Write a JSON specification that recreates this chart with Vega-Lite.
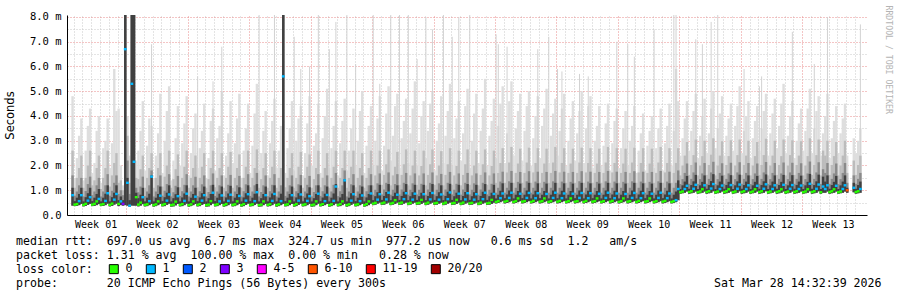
{
"$schema": "https://vega.github.io/schema/vega-lite/v6.json",
"width": 800, "height": 200,
"autosize": "none",
"padding": {"left": 67, "top": 15, "right": 30, "bottom": 82},
"background": "white",
"config": {"view": {"stroke": null}, "axis": {"zindex": 1}},
"title": {
  "text": [
    "median rtt:\u00a0\u00a0697.0 us avg\u00a0\u00a06.7 ms max\u00a0\u00a0324.7 us min\u00a0\u00a0977.2 us now\u00a0\u00a0\u00a00.6 ms sd\u00a0\u00a01.2\u00a0\u00a0\u00a0am/s",
    "packet loss: 1.31 % avg\u00a0\u00a0100.00 % max\u00a0\u00a00.00 % min\u00a0\u00a0\u00a00.28 % now",
    "loss color:",
    "probe:\u00a0\u00a0\u00a0\u00a0\u00a0\u00a0\u00a020 ICMP Echo Pings (56 Bytes) every 300s\u00a0\u00a0\u00a0\u00a0\u00a0\u00a0\u00a0\u00a0\u00a0\u00a0\u00a0\u00a0\u00a0\u00a0\u00a0\u00a0\u00a0\u00a0\u00a0\u00a0\u00a0\u00a0\u00a0\u00a0\u00a0\u00a0\u00a0\u00a0\u00a0\u00a0\u00a0\u00a0\u00a0\u00a0\u00a0\u00a0\u00a0\u00a0\u00a0\u00a0\u00a0\u00a0\u00a0\u00a0\u00a0\u00a0\u00a0Sat Mar 28 14:32:39 2026"
  ],
  "orient": "bottom", "anchor": "start", "frame": "group", "align": "left",
  "dx": -51, "offset": -40,
  "font": "DejaVu Sans Mono", "fontSize": 11.6, "fontWeight": "normal", "color": "black", "lineHeight": 14
},
"data": {"values": [
{"t":0.875,"m":0.8,"l":"1","lo":0.38,"a":1.1,"b":1.6,"c":2.6,"d":4.8},
{"t":1.125,"m":0.42,"l":"0","lo":0.36,"a":0.56,"b":0.78,"c":1.1,"d":1.5},
{"t":1.375,"m":0.44,"l":"0","lo":0.37,"a":0.7,"b":0.95,"c":1.5,"d":2.3},
{"t":1.625,"m":0.56,"l":"1","lo":0.4,"a":0.85,"b":1.2,"c":1.9,"d":3.2},
{"t":1.875,"m":0.8,"l":"1","lo":0.45,"a":1.1,"b":1.5,"c":2.4,"d":3.9},
{"t":2.125,"m":0.41,"l":"0","lo":0.35,"a":0.55,"b":0.75,"c":1.1,"d":1.4},
{"t":2.375,"m":0.45,"l":"0","lo":0.37,"a":0.72,"b":0.97,"c":1.5,"d":2.6},
{"t":2.625,"m":0.58,"l":"1","lo":0.41,"a":0.88,"b":1.25,"c":2.0,"d":3.6},
{"t":2.875,"m":0.72,"l":"1","lo":0.45,"a":1.1,"b":1.55,"c":2.6,"d":4.3},
{"t":3.125,"m":0.42,"l":"0","lo":0.36,"a":0.56,"b":0.8,"c":1.2,"d":1.7},
{"t":3.375,"m":0.45,"l":"0","lo":0.37,"a":0.7,"b":0.95,"c":1.4,"d":2.1},
{"t":3.625,"m":0.55,"l":"0","lo":0.4,"a":0.85,"b":1.2,"c":1.9,"d":3.4},
{"t":3.875,"m":0.65,"l":"1","lo":0.44,"a":1.05,"b":1.5,"c":2.4,"d":4.0},
{"t":4.125,"m":0.42,"l":"0","lo":0.36,"a":0.55,"b":0.75,"c":1.05,"d":1.3},
{"t":4.375,"m":0.44,"l":"0","lo":0.37,"a":0.7,"b":0.95,"c":1.5,"d":2.7},
{"t":4.625,"m":0.57,"l":"1","lo":0.4,"a":0.86,"b":1.2,"c":1.9,"d":3.0},
{"t":4.875,"m":0.88,"l":"1","lo":0.46,"a":1.2,"b":1.65,"c":2.6,"d":3.9},
{"t":5.125,"m":0.41,"l":"0","lo":0.35,"a":0.55,"b":0.78,"c":1.15,"d":1.9},
{"t":5.375,"m":0.46,"l":"0","lo":0.37,"a":0.72,"b":0.98,"c":1.6,"d":2.9},
{"t":5.625,"m":0.62,"l":"1","lo":0.42,"a":0.9,"b":1.3,"c":2.1,"d":5.9},
{"t":5.875,"m":0.85,"l":"1","lo":0.46,"a":1.2,"b":1.6,"c":2.5,"d":4.2},
{"t":6.125,"m":0.45,"l":"0","lo":0.36,"a":0.6,"b":0.85,"c":1.3,"d":4.3},
{"t":6.375,"m":0.55,"l":"1","lo":0.4,"a":0.75,"b":1.0,"c":1.4,"d":2.0},
{"t":6.625,"m":0.45,"l":"3","lo":0.38,"a":0.6,"b":0.8,"c":1.0,"d":1.2},
{"t":6.875,"m":6.7,"l":"1","lo":0.4,"a":8.1,"b":8.1,"c":8.1,"d":8.1},
{"t":7.125,"m":1.3,"l":"1","lo":0.38,"a":1.5,"b":2.2,"c":3.2,"d":4.0},
{"t":7.375,"m":0.38,"l":"1","lo":0.34,"a":0.6,"b":0.85,"c":1.3,"d":2.4},
{"t":7.625,"m":5.3,"l":"1","lo":0.38,"a":8.1,"b":8.1,"c":8.1,"d":8.1},
{"t":7.875,"m":2.15,"l":"1","lo":0.38,"a":8.1,"b":8.1,"c":8.1,"d":8.1},
{"t":8.125,"m":0.72,"l":"0","lo":0.38,"a":0.9,"b":1.1,"c":1.5,"d":2.2},
{"t":8.375,"m":0.42,"l":"0","lo":0.35,"a":0.68,"b":0.92,"c":1.45,"d":2.6},
{"t":8.625,"m":0.5,"l":"0","lo":0.38,"a":0.82,"b":1.15,"c":1.85,"d":3.4},
{"t":8.875,"m":0.72,"l":"1","lo":0.44,"a":1.1,"b":1.55,"c":2.4,"d":4.6},
{"t":9.125,"m":0.41,"l":"0","lo":0.35,"a":0.55,"b":0.76,"c":1.1,"d":1.8},
{"t":9.375,"m":0.43,"l":"0","lo":0.36,"a":0.7,"b":0.95,"c":1.5,"d":2.8},
{"t":9.625,"m":0.56,"l":"1","lo":0.4,"a":0.86,"b":1.2,"c":1.9,"d":3.9},
{"t":9.875,"m":1.55,"l":"1","lo":0.45,"a":1.6,"b":1.8,"c":2.5,"d":3.6,"p":6.9},
{"t":10.125,"m":0.4,"l":"0","lo":0.34,"a":0.55,"b":0.75,"c":1.1,"d":1.5},
{"t":10.375,"m":0.43,"l":"0","lo":0.36,"a":0.7,"b":0.95,"c":1.5,"d":2.4},
{"t":10.625,"m":0.55,"l":"0","lo":0.4,"a":0.85,"b":1.2,"c":1.9,"d":3.3},
{"t":10.875,"m":0.78,"l":"1","lo":0.45,"a":1.15,"b":1.6,"c":2.5,"d":4.9},
{"t":11.125,"m":0.41,"l":"0","lo":0.35,"a":0.56,"b":0.78,"c":1.15,"d":1.7},
{"t":11.375,"m":0.44,"l":"0","lo":0.36,"a":0.72,"b":0.98,"c":1.55,"d":3.0},
{"t":11.625,"m":0.58,"l":"1","lo":0.41,"a":0.9,"b":1.25,"c":2.0,"d":4.2},
{"t":11.875,"m":0.83,"l":"1","lo":0.46,"a":1.2,"b":1.65,"c":2.6,"d":5.2},
{"t":12.125,"m":0.4,"l":"0","lo":0.34,"a":0.55,"b":0.75,"c":1.1,"d":1.4},
{"t":12.375,"m":0.42,"l":"0","lo":0.35,"a":0.68,"b":0.92,"c":1.45,"d":2.2},
{"t":12.625,"m":0.54,"l":"0","lo":0.39,"a":0.84,"b":1.18,"c":1.85,"d":3.1},
{"t":12.875,"m":0.76,"l":"1","lo":0.45,"a":1.12,"b":1.58,"c":2.45,"d":4.4},
{"t":13.125,"m":0.41,"l":"0","lo":0.35,"a":0.55,"b":0.77,"c":1.12,"d":2.0},
{"t":13.375,"m":0.44,"l":"0","lo":0.36,"a":0.71,"b":0.96,"c":1.5,"d":2.9},
{"t":13.625,"m":0.57,"l":"1","lo":0.4,"a":0.87,"b":1.22,"c":1.95,"d":3.7},
{"t":13.875,"m":0.86,"l":"1","lo":0.46,"a":1.2,"b":1.65,"c":2.6,"d":4.8},
{"t":14.125,"m":0.4,"l":"0","lo":0.34,"a":0.55,"b":0.75,"c":1.1,"d":1.6},
{"t":14.375,"m":0.43,"l":"0","lo":0.36,"a":0.7,"b":0.95,"c":1.5,"d":2.5},
{"t":14.625,"m":0.55,"l":"0","lo":0.4,"a":0.85,"b":1.2,"c":1.9,"d":3.5},
{"t":14.875,"m":0.74,"l":"1","lo":0.44,"a":1.1,"b":1.55,"c":2.4,"d":4.1},
{"t":15.125,"m":0.41,"l":"0","lo":0.35,"a":0.56,"b":0.77,"c":1.12,"d":1.9,"p":5.6},
{"t":15.375,"m":0.44,"l":"0","lo":0.36,"a":0.71,"b":0.96,"c":1.5,"d":2.7},
{"t":15.625,"m":0.58,"l":"1","lo":0.41,"a":0.88,"b":1.24,"c":1.95,"d":3.4},
{"t":15.875,"m":0.8,"l":"1","lo":0.45,"a":1.15,"b":1.6,"c":2.5,"d":4.5},
{"t":16.125,"m":0.4,"l":"0","lo":0.34,"a":0.55,"b":0.75,"c":1.1,"d":1.5},
{"t":16.375,"m":0.42,"l":"0","lo":0.35,"a":0.68,"b":0.93,"c":1.45,"d":2.3},
{"t":16.625,"m":0.56,"l":"0","lo":0.4,"a":0.85,"b":1.2,"c":1.9,"d":3.8},
{"t":16.875,"m":0.9,"l":"1","lo":0.46,"a":1.22,"b":1.68,"c":2.6,"d":4.3,"p":5.4},
{"t":17.125,"m":0.41,"l":"0","lo":0.35,"a":0.56,"b":0.77,"c":1.12,"d":1.8},
{"t":17.375,"m":0.43,"l":"0","lo":0.36,"a":0.7,"b":0.95,"c":1.5,"d":3.1},
{"t":17.625,"m":0.55,"l":"1","lo":0.4,"a":0.86,"b":1.2,"c":1.9,"d":3.6},
{"t":17.875,"m":0.79,"l":"1","lo":0.45,"a":1.15,"b":1.6,"c":2.5,"d":5.0,"p":6.8},
{"t":18.125,"m":0.4,"l":"0","lo":0.34,"a":0.55,"b":0.75,"c":1.1,"d":1.6},
{"t":18.375,"m":0.44,"l":"0","lo":0.36,"a":0.71,"b":0.96,"c":1.5,"d":2.4},
{"t":18.625,"m":0.57,"l":"1","lo":0.4,"a":0.87,"b":1.22,"c":1.95,"d":3.3},
{"t":18.875,"m":0.82,"l":"1","lo":0.46,"a":1.18,"b":1.62,"c":2.55,"d":4.6},
{"t":19.125,"m":0.41,"l":"0","lo":0.35,"a":0.55,"b":0.76,"c":1.1,"d":2.1},
{"t":19.375,"m":0.43,"l":"0","lo":0.36,"a":0.7,"b":0.95,"c":1.5,"d":2.9},
{"t":19.625,"m":0.55,"l":"0","lo":0.4,"a":0.85,"b":1.2,"c":1.9,"d":3.9},
{"t":19.875,"m":0.77,"l":"1","lo":0.45,"a":1.12,"b":1.58,"c":2.45,"d":4.9},
{"t":20.125,"m":0.4,"l":"0","lo":0.34,"a":0.55,"b":0.75,"c":1.1,"d":1.5},
{"t":20.375,"m":0.44,"l":"0","lo":0.36,"a":0.71,"b":0.96,"c":1.5,"d":2.6},
{"t":20.625,"m":0.58,"l":"1","lo":0.41,"a":0.88,"b":1.24,"c":1.95,"d":3.5},
{"t":20.875,"m":0.84,"l":"1","lo":0.46,"a":1.2,"b":1.65,"c":2.6,"d":4.5},
{"t":21.125,"m":0.41,"l":"0","lo":0.35,"a":0.56,"b":0.77,"c":1.12,"d":1.7},
{"t":21.375,"m":0.43,"l":"0","lo":0.36,"a":0.7,"b":0.95,"c":1.5,"d":2.8},
{"t":21.625,"m":0.56,"l":"1","lo":0.4,"a":0.86,"b":1.2,"c":1.9,"d":4.1},
{"t":21.875,"m":0.92,"l":"1","lo":0.46,"a":1.25,"b":1.7,"c":2.65,"d":5.3},
{"t":22.125,"m":0.4,"l":"0","lo":0.34,"a":0.55,"b":0.75,"c":1.1,"d":1.8,"p":8.1},
{"t":22.375,"m":0.42,"l":"0","lo":0.35,"a":0.68,"b":0.93,"c":1.45,"d":2.5},
{"t":22.625,"m":0.55,"l":"0","lo":0.4,"a":0.85,"b":1.2,"c":1.9,"d":3.4},
{"t":22.875,"m":0.8,"l":"1","lo":0.45,"a":1.15,"b":1.6,"c":2.5,"d":4.2},
{"t":23.125,"m":0.41,"l":"0","lo":0.35,"a":0.55,"b":0.76,"c":1.1,"d":1.6},
{"t":23.375,"m":0.44,"l":"0","lo":0.36,"a":0.71,"b":0.96,"c":1.5,"d":2.9},
{"t":23.625,"m":0.57,"l":"1","lo":0.4,"a":0.87,"b":1.22,"c":1.95,"d":3.8},
{"t":23.875,"m":0.85,"l":"1","lo":0.46,"a":1.2,"b":1.65,"c":2.6,"d":4.7,"p":8.1},
{"t":24.125,"m":0.4,"l":"0","lo":0.34,"a":0.55,"b":0.75,"c":1.1,"d":1.9},
{"t":24.375,"m":0.43,"l":"0","lo":0.36,"a":0.7,"b":0.95,"c":1.5,"d":2.6},
{"t":24.625,"m":0.56,"l":"1","lo":0.4,"a":0.86,"b":1.2,"c":1.9,"d":3.6},
{"t":24.875,"m":5.6,"l":"1","lo":0.45,"a":8.1,"b":8.1,"c":8.1,"d":8.1},
{"t":25.125,"m":0.41,"l":"0","lo":0.35,"a":0.56,"b":0.77,"c":1.12,"d":1.7},
{"t":25.375,"m":0.43,"l":"0","lo":0.36,"a":0.7,"b":0.95,"c":1.5,"d":2.7},
{"t":25.625,"m":0.55,"l":"0","lo":0.4,"a":0.85,"b":1.2,"c":1.9,"d":3.5},
{"t":25.875,"m":0.8,"l":"1","lo":0.45,"a":1.15,"b":1.6,"c":2.5,"d":4.6},
{"t":26.125,"m":0.4,"l":"0","lo":0.34,"a":0.55,"b":0.75,"c":1.1,"d":1.8,"p":7.2},
{"t":26.375,"m":0.44,"l":"0","lo":0.36,"a":0.71,"b":0.96,"c":1.5,"d":3.0},
{"t":26.625,"m":0.58,"l":"1","lo":0.41,"a":0.88,"b":1.24,"c":1.95,"d":3.9},
{"t":26.875,"m":0.83,"l":"1","lo":0.46,"a":1.2,"b":1.62,"c":2.55,"d":4.4,"p":5.9},
{"t":27.125,"m":0.41,"l":"0","lo":0.35,"a":0.55,"b":0.76,"c":1.1,"d":1.6},
{"t":27.375,"m":0.43,"l":"0","lo":0.36,"a":0.7,"b":0.95,"c":1.5,"d":2.5},
{"t":27.625,"m":0.57,"l":"1","lo":0.4,"a":0.87,"b":1.22,"c":1.95,"d":3.7},
{"t":27.875,"m":0.76,"l":"1","lo":0.45,"a":1.12,"b":1.58,"c":2.45,"d":4.8,"p":6.0},
{"t":28.125,"m":0.4,"l":"0","lo":0.34,"a":0.55,"b":0.75,"c":1.1,"d":2.0},
{"t":28.375,"m":0.42,"l":"0","lo":0.35,"a":0.68,"b":0.93,"c":1.45,"d":2.8},
{"t":28.625,"m":0.55,"l":"0","lo":0.4,"a":0.85,"b":1.2,"c":1.9,"d":3.3},
{"t":28.875,"m":0.86,"l":"1","lo":0.46,"a":1.2,"b":1.65,"c":2.6,"d":4.5,"p":8.1},
{"t":29.125,"m":0.41,"l":"0","lo":0.35,"a":0.56,"b":0.77,"c":1.12,"d":1.7},
{"t":29.375,"m":0.44,"l":"0","lo":0.36,"a":0.71,"b":0.96,"c":1.5,"d":3.1},
{"t":29.625,"m":0.56,"l":"1","lo":0.4,"a":0.86,"b":1.2,"c":1.9,"d":4.0},
{"t":29.875,"m":0.81,"l":"1","lo":0.45,"a":1.15,"b":1.6,"c":2.5,"d":5.1},
{"t":30.125,"m":0.4,"l":"0","lo":0.34,"a":0.55,"b":0.75,"c":1.1,"d":1.9,"p":6.7},
{"t":30.375,"m":0.43,"l":"0","lo":0.36,"a":0.7,"b":0.95,"c":1.5,"d":2.7},
{"t":30.625,"m":0.57,"l":"1","lo":0.4,"a":0.87,"b":1.22,"c":1.95,"d":3.6},
{"t":30.875,"m":1.15,"l":"1","lo":0.46,"a":1.25,"b":1.7,"c":2.6,"d":4.6,"p":7.8},
{"t":31.125,"m":0.41,"l":"0","lo":0.35,"a":0.55,"b":0.76,"c":1.1,"d":1.6},
{"t":31.375,"m":0.44,"l":"0","lo":0.36,"a":0.71,"b":0.96,"c":1.5,"d":2.9},
{"t":31.625,"m":0.55,"l":"0","lo":0.4,"a":0.85,"b":1.2,"c":1.9,"d":3.8},
{"t":31.875,"m":1.4,"l":"1","lo":0.45,"a":1.45,"b":1.8,"c":2.6,"d":4.7},
{"t":32.125,"m":0.4,"l":"0","lo":0.34,"a":0.55,"b":0.75,"c":1.1,"d":1.8,"p":8.1},
{"t":32.375,"m":0.43,"l":"0","lo":0.36,"a":0.7,"b":0.95,"c":1.5,"d":2.6},
{"t":32.625,"m":0.58,"l":"1","lo":0.41,"a":0.88,"b":1.24,"c":1.95,"d":3.5},
{"t":32.875,"m":0.84,"l":"1","lo":0.46,"a":1.2,"b":1.65,"c":2.6,"d":4.3},
{"t":33.125,"m":0.41,"l":"0","lo":0.35,"a":0.56,"b":0.77,"c":1.12,"d":2.0,"p":6.1},
{"t":33.375,"m":0.43,"l":"0","lo":0.36,"a":0.7,"b":0.95,"c":1.5,"d":3.0},
{"t":33.625,"m":0.56,"l":"1","lo":0.4,"a":0.86,"b":1.2,"c":1.9,"d":4.2},
{"t":33.875,"m":0.79,"l":"1","lo":0.45,"a":1.15,"b":1.6,"c":2.5,"d":5.0},
{"t":34.125,"m":0.4,"l":"0","lo":0.34,"a":0.55,"b":0.75,"c":1.1,"d":1.7},
{"t":34.375,"m":0.44,"l":"0","lo":0.36,"a":0.71,"b":0.96,"c":1.5,"d":2.8},
{"t":34.625,"m":0.55,"l":"0","lo":0.4,"a":0.85,"b":1.2,"c":1.9,"d":3.6},
{"t":34.875,"m":0.87,"l":"1","lo":0.46,"a":1.2,"b":1.65,"c":2.6,"d":4.4},
{"t":35.125,"m":0.46,"l":"0","lo":0.4,"a":0.6,"b":0.82,"c":1.2,"d":2.0,"p":8.1},
{"t":35.375,"m":0.49,"l":"0","lo":0.42,"a":0.76,"b":1.02,"c":1.6,"d":3.0},
{"t":35.625,"m":0.62,"l":"1","lo":0.46,"a":0.92,"b":1.28,"c":2.0,"d":3.9},
{"t":35.875,"m":0.84,"l":"1","lo":0.5,"a":1.22,"b":1.68,"c":2.6,"d":4.8,"p":5.3},
{"t":36.125,"m":0.47,"l":"0","lo":0.41,"a":0.61,"b":0.83,"c":1.22,"d":1.8},
{"t":36.375,"m":0.5,"l":"0","lo":0.42,"a":0.77,"b":1.03,"c":1.62,"d":2.8},
{"t":36.625,"m":0.63,"l":"1","lo":0.46,"a":0.93,"b":1.3,"c":2.05,"d":4.1},
{"t":36.875,"m":0.9,"l":"1","lo":0.5,"a":1.25,"b":1.72,"c":2.65,"d":5.2},
{"t":37.125,"m":0.46,"l":"0","lo":0.4,"a":0.6,"b":0.82,"c":1.2,"d":2.2,"p":8.1},
{"t":37.375,"m":0.49,"l":"0","lo":0.42,"a":0.76,"b":1.02,"c":1.6,"d":3.2},
{"t":37.625,"m":0.6,"l":"0","lo":0.45,"a":0.9,"b":1.25,"c":1.95,"d":4.4},
{"t":37.875,"m":0.82,"l":"1","lo":0.5,"a":1.2,"b":1.65,"c":2.55,"d":4.9},
{"t":38.125,"m":0.47,"l":"0","lo":0.41,"a":0.61,"b":0.83,"c":1.22,"d":1.9,"p":8.1},
{"t":38.375,"m":0.5,"l":"0","lo":0.42,"a":0.77,"b":1.03,"c":1.62,"d":3.1},
{"t":38.625,"m":0.64,"l":"1","lo":0.46,"a":0.94,"b":1.3,"c":2.05,"d":3.8},
{"t":38.875,"m":0.88,"l":"1","lo":0.5,"a":1.25,"b":1.7,"c":2.65,"d":4.7},
{"t":39.125,"m":0.46,"l":"0","lo":0.4,"a":0.6,"b":0.82,"c":1.2,"d":2.1,"p":8.1},
{"t":39.375,"m":0.49,"l":"0","lo":0.42,"a":0.76,"b":1.02,"c":1.6,"d":3.3},
{"t":39.625,"m":0.62,"l":"1","lo":0.46,"a":0.92,"b":1.28,"c":2.0,"d":4.3},
{"t":39.875,"m":0.86,"l":"1","lo":0.5,"a":1.22,"b":1.68,"c":2.6,"d":5.4},
{"t":40.125,"m":0.47,"l":"0","lo":0.41,"a":0.61,"b":0.83,"c":1.22,"d":2.0,"p":6.3},
{"t":40.375,"m":0.49,"l":"0","lo":0.42,"a":0.76,"b":1.02,"c":1.6,"d":2.9},
{"t":40.625,"m":0.61,"l":"0","lo":0.45,"a":0.9,"b":1.26,"c":1.98,"d":4.0},
{"t":40.875,"m":0.84,"l":"1","lo":0.5,"a":1.22,"b":1.68,"c":2.6,"d":4.6},
{"t":41.125,"m":0.46,"l":"0","lo":0.4,"a":0.6,"b":0.82,"c":1.2,"d":2.3,"p":8.0},
{"t":41.375,"m":0.5,"l":"0","lo":0.42,"a":0.77,"b":1.03,"c":1.62,"d":3.4},
{"t":41.625,"m":0.63,"l":"1","lo":0.46,"a":0.93,"b":1.3,"c":2.05,"d":4.5},
{"t":41.875,"m":0.89,"l":"1","lo":0.5,"a":1.25,"b":1.72,"c":2.65,"d":5.0,"p":7.5},
{"t":42.125,"m":0.47,"l":"0","lo":0.41,"a":0.61,"b":0.83,"c":1.22,"d":1.8},
{"t":42.375,"m":0.49,"l":"0","lo":0.42,"a":0.76,"b":1.02,"c":1.6,"d":3.0},
{"t":42.625,"m":0.62,"l":"1","lo":0.46,"a":0.92,"b":1.28,"c":2.0,"d":3.7},
{"t":42.875,"m":0.83,"l":"1","lo":0.5,"a":1.2,"b":1.66,"c":2.58,"d":4.8},
{"t":43.125,"m":0.46,"l":"0","lo":0.4,"a":0.6,"b":0.82,"c":1.2,"d":2.1,"p":8.1},
{"t":43.375,"m":0.5,"l":"0","lo":0.42,"a":0.77,"b":1.03,"c":1.62,"d":3.2},
{"t":43.625,"m":0.64,"l":"1","lo":0.46,"a":0.94,"b":1.3,"c":2.05,"d":4.2},
{"t":43.875,"m":0.91,"l":"1","lo":0.5,"a":1.26,"b":1.74,"c":2.7,"d":5.3},
{"t":44.125,"m":0.47,"l":"0","lo":0.41,"a":0.61,"b":0.83,"c":1.22,"d":2.0,"p":7.2},
{"t":44.375,"m":0.49,"l":"0","lo":0.42,"a":0.76,"b":1.02,"c":1.6,"d":3.1},
{"t":44.625,"m":0.61,"l":"0","lo":0.45,"a":0.9,"b":1.26,"c":1.98,"d":3.9},
{"t":44.875,"m":0.86,"l":"1","lo":0.5,"a":1.22,"b":1.68,"c":2.6,"d":4.6,"p":8.0},
{"t":45.125,"m":0.46,"l":"0","lo":0.4,"a":0.6,"b":0.82,"c":1.2,"d":2.2},
{"t":45.375,"m":0.5,"l":"0","lo":0.42,"a":0.77,"b":1.03,"c":1.62,"d":3.3},
{"t":45.625,"m":0.63,"l":"1","lo":0.46,"a":0.93,"b":1.3,"c":2.05,"d":4.4},
{"t":45.875,"m":0.88,"l":"1","lo":0.5,"a":1.25,"b":1.7,"c":2.65,"d":5.1},
{"t":46.125,"m":0.47,"l":"0","lo":0.41,"a":0.61,"b":0.83,"c":1.22,"d":1.9,"p":8.1},
{"t":46.375,"m":0.49,"l":"0","lo":0.42,"a":0.76,"b":1.02,"c":1.6,"d":3.0},
{"t":46.625,"m":0.62,"l":"1","lo":0.46,"a":0.92,"b":1.28,"c":2.0,"d":4.1},
{"t":46.875,"m":0.84,"l":"1","lo":0.5,"a":1.22,"b":1.68,"c":2.6,"d":4.9},
{"t":47.125,"m":0.46,"l":"0","lo":0.4,"a":0.6,"b":0.82,"c":1.2,"d":2.1},
{"t":47.375,"m":0.5,"l":"0","lo":0.42,"a":0.77,"b":1.03,"c":1.62,"d":3.4},
{"t":47.625,"m":0.64,"l":"1","lo":0.46,"a":0.94,"b":1.3,"c":2.05,"d":4.3},
{"t":47.875,"m":0.9,"l":"1","lo":0.5,"a":1.25,"b":1.72,"c":2.65,"d":5.5},
{"t":48.125,"m":0.47,"l":"0","lo":0.41,"a":0.61,"b":0.83,"c":1.22,"d":2.0},
{"t":48.375,"m":0.49,"l":"0","lo":0.42,"a":0.76,"b":1.02,"c":1.6,"d":3.2},
{"t":48.625,"m":0.61,"l":"0","lo":0.45,"a":0.9,"b":1.26,"c":1.98,"d":3.8},
{"t":48.875,"m":0.85,"l":"1","lo":0.5,"a":1.22,"b":1.68,"c":2.6,"d":4.7},
{"t":49.125,"m":0.53,"l":"0","lo":0.47,"a":0.67,"b":0.9,"c":1.3,"d":2.3,"p":7.3},
{"t":49.375,"m":0.56,"l":"0","lo":0.49,"a":0.82,"b":1.1,"c":1.7,"d":3.6,"p":6.9},
{"t":49.625,"m":0.68,"l":"1","lo":0.52,"a":0.98,"b":1.35,"c":2.1,"d":4.5},
{"t":49.875,"m":0.87,"l":"1","lo":0.56,"a":1.28,"b":1.75,"c":2.7,"d":5.2},
{"t":50.125,"m":0.54,"l":"0","lo":0.47,"a":0.68,"b":0.9,"c":1.3,"d":2.1},
{"t":50.375,"m":0.57,"l":"0","lo":0.49,"a":0.83,"b":1.1,"c":1.72,"d":3.3,"p":6.8},
{"t":50.625,"m":0.69,"l":"1","lo":0.52,"a":0.99,"b":1.36,"c":2.12,"d":4.6},
{"t":50.875,"m":0.9,"l":"1","lo":0.56,"a":1.3,"b":1.78,"c":2.75,"d":5.4},
{"t":51.125,"m":0.53,"l":"0","lo":0.47,"a":0.67,"b":0.9,"c":1.3,"d":2.4},
{"t":51.375,"m":0.56,"l":"0","lo":0.49,"a":0.82,"b":1.1,"c":1.7,"d":3.5},
{"t":51.625,"m":0.67,"l":"0","lo":0.52,"a":0.97,"b":1.34,"c":2.08,"d":4.2},
{"t":51.875,"m":0.86,"l":"1","lo":0.56,"a":1.27,"b":1.74,"c":2.68,"d":4.9},
{"t":52.125,"m":0.54,"l":"0","lo":0.47,"a":0.68,"b":0.9,"c":1.3,"d":2.2},
{"t":52.375,"m":0.56,"l":"0","lo":0.49,"a":0.82,"b":1.1,"c":1.7,"d":3.4},
{"t":52.625,"m":0.69,"l":"1","lo":0.52,"a":0.99,"b":1.36,"c":2.12,"d":4.4},
{"t":52.875,"m":0.89,"l":"1","lo":0.56,"a":1.3,"b":1.77,"c":2.72,"d":5.0},
{"t":53.125,"m":0.53,"l":"0","lo":0.47,"a":0.67,"b":0.9,"c":1.3,"d":2.0},
{"t":53.375,"m":0.57,"l":"0","lo":0.49,"a":0.83,"b":1.1,"c":1.72,"d":3.1},
{"t":53.625,"m":0.68,"l":"1","lo":0.52,"a":0.98,"b":1.35,"c":2.1,"d":4.0},
{"t":53.875,"m":0.88,"l":"1","lo":0.56,"a":1.28,"b":1.75,"c":2.7,"d":4.8,"p":6.7},
{"t":54.125,"m":0.54,"l":"0","lo":0.47,"a":0.68,"b":0.9,"c":1.3,"d":2.3},
{"t":54.375,"m":0.56,"l":"0","lo":0.49,"a":0.82,"b":1.1,"c":1.7,"d":3.6},
{"t":54.625,"m":0.67,"l":"0","lo":0.52,"a":0.97,"b":1.34,"c":2.08,"d":4.3},
{"t":54.875,"m":0.85,"l":"1","lo":0.56,"a":1.27,"b":1.74,"c":2.68,"d":5.1},
{"t":55.125,"m":0.53,"l":"0","lo":0.47,"a":0.67,"b":0.9,"c":1.3,"d":2.1,"p":7.2},
{"t":55.375,"m":0.56,"l":"0","lo":0.49,"a":0.82,"b":1.1,"c":1.7,"d":3.2},
{"t":55.625,"m":0.69,"l":"1","lo":0.52,"a":0.99,"b":1.36,"c":2.12,"d":4.1},
{"t":55.875,"m":0.9,"l":"1","lo":0.56,"a":1.3,"b":1.78,"c":2.75,"d":4.7},
{"t":56.125,"m":0.54,"l":"0","lo":0.47,"a":0.68,"b":0.9,"c":1.3,"d":2.4,"p":5.9},
{"t":56.375,"m":0.57,"l":"0","lo":0.49,"a":0.83,"b":1.1,"c":1.72,"d":3.4},
{"t":56.625,"m":0.68,"l":"1","lo":0.52,"a":0.98,"b":1.35,"c":2.1,"d":4.3,"p":5.8},
{"t":56.875,"m":0.87,"l":"1","lo":0.56,"a":1.28,"b":1.75,"c":2.7,"d":4.9},
{"t":57.125,"m":0.53,"l":"0","lo":0.47,"a":0.67,"b":0.9,"c":1.3,"d":2.0},
{"t":57.375,"m":0.56,"l":"0","lo":0.49,"a":0.82,"b":1.1,"c":1.7,"d":3.0},
{"t":57.625,"m":0.67,"l":"0","lo":0.52,"a":0.97,"b":1.34,"c":2.08,"d":3.9},
{"t":57.875,"m":0.86,"l":"1","lo":0.56,"a":1.27,"b":1.74,"c":2.68,"d":4.6},
{"t":58.125,"m":0.54,"l":"0","lo":0.47,"a":0.68,"b":0.9,"c":1.3,"d":2.2},
{"t":58.375,"m":0.56,"l":"0","lo":0.49,"a":0.82,"b":1.1,"c":1.7,"d":3.3},
{"t":58.625,"m":0.69,"l":"1","lo":0.52,"a":0.99,"b":1.36,"c":2.12,"d":4.2,"p":5.7},
{"t":58.875,"m":0.89,"l":"1","lo":0.56,"a":1.3,"b":1.77,"c":2.72,"d":5.0},
{"t":59.125,"m":0.53,"l":"0","lo":0.47,"a":0.67,"b":0.9,"c":1.3,"d":2.1},
{"t":59.375,"m":0.57,"l":"0","lo":0.49,"a":0.83,"b":1.1,"c":1.72,"d":3.5},
{"t":59.625,"m":0.68,"l":"1","lo":0.52,"a":0.98,"b":1.35,"c":2.1,"d":4.4,"p":5.6},
{"t":59.875,"m":0.88,"l":"1","lo":0.56,"a":1.28,"b":1.75,"c":2.7,"d":4.8},
{"t":60.125,"m":0.54,"l":"0","lo":0.47,"a":0.68,"b":0.9,"c":1.3,"d":1.9},
{"t":60.375,"m":0.56,"l":"0","lo":0.49,"a":0.82,"b":1.1,"c":1.7,"d":3.0},
{"t":60.625,"m":0.67,"l":"0","lo":0.52,"a":0.97,"b":1.34,"c":2.08,"d":3.6},
{"t":60.875,"m":0.86,"l":"1","lo":0.56,"a":1.27,"b":1.74,"c":2.68,"d":4.4},
{"t":61.125,"m":0.53,"l":"0","lo":0.47,"a":0.67,"b":0.9,"c":1.3,"d":2.0},
{"t":61.375,"m":0.56,"l":"0","lo":0.49,"a":0.82,"b":1.1,"c":1.7,"d":2.8},
{"t":61.625,"m":0.69,"l":"1","lo":0.52,"a":0.99,"b":1.36,"c":2.12,"d":3.7},
{"t":61.875,"m":0.9,"l":"1","lo":0.56,"a":1.3,"b":1.78,"c":2.75,"d":4.5},
{"t":62.125,"m":0.54,"l":"0","lo":0.47,"a":0.68,"b":0.9,"c":1.3,"d":1.8},
{"t":62.375,"m":0.57,"l":"0","lo":0.49,"a":0.83,"b":1.1,"c":1.72,"d":2.9},
{"t":62.625,"m":0.68,"l":"1","lo":0.52,"a":0.98,"b":1.35,"c":2.1,"d":3.8},
{"t":62.875,"m":0.87,"l":"1","lo":0.56,"a":1.28,"b":1.75,"c":2.7,"d":4.3,"p":7.0},
{"t":63.125,"m":0.53,"l":"0","lo":0.47,"a":0.67,"b":0.9,"c":1.3,"d":1.9},
{"t":63.375,"m":0.56,"l":"0","lo":0.49,"a":0.82,"b":1.1,"c":1.7,"d":2.7},
{"t":63.625,"m":0.67,"l":"0","lo":0.52,"a":0.97,"b":1.34,"c":2.08,"d":3.5},
{"t":63.875,"m":0.85,"l":"1","lo":0.56,"a":1.27,"b":1.74,"c":2.68,"d":4.2},
{"t":64.125,"m":0.54,"l":"0","lo":0.47,"a":0.68,"b":0.9,"c":1.3,"d":2.0,"p":6.9},
{"t":64.375,"m":0.56,"l":"0","lo":0.49,"a":0.82,"b":1.1,"c":1.7,"d":3.0},
{"t":64.625,"m":0.69,"l":"1","lo":0.52,"a":0.99,"b":1.36,"c":2.12,"d":3.6},
{"t":64.875,"m":0.89,"l":"1","lo":0.56,"a":1.3,"b":1.77,"c":2.72,"d":4.4,"p":6.4},
{"t":65.125,"m":0.53,"l":"0","lo":0.47,"a":0.67,"b":0.9,"c":1.3,"d":1.7},
{"t":65.375,"m":0.57,"l":"0","lo":0.49,"a":0.83,"b":1.1,"c":1.72,"d":2.6},
{"t":65.625,"m":0.68,"l":"1","lo":0.52,"a":0.98,"b":1.35,"c":2.1,"d":3.3},
{"t":65.875,"m":0.88,"l":"1","lo":0.56,"a":1.28,"b":1.75,"c":2.7,"d":4.1},
{"t":66.125,"m":0.54,"l":"0","lo":0.47,"a":0.68,"b":0.9,"c":1.3,"d":1.8},
{"t":66.375,"m":0.56,"l":"0","lo":0.49,"a":0.82,"b":1.1,"c":1.7,"d":2.8},
{"t":66.625,"m":0.67,"l":"0","lo":0.52,"a":0.97,"b":1.34,"c":2.08,"d":3.4},
{"t":66.875,"m":0.86,"l":"1","lo":0.56,"a":1.27,"b":1.74,"c":2.68,"d":4.0},
{"t":67.125,"m":0.53,"l":"0","lo":0.47,"a":0.67,"b":0.9,"c":1.3,"d":1.9,"p":7.5},
{"t":67.375,"m":0.56,"l":"0","lo":0.49,"a":0.82,"b":1.1,"c":1.7,"d":2.7},
{"t":67.625,"m":0.69,"l":"1","lo":0.52,"a":0.99,"b":1.36,"c":2.12,"d":3.5},
{"t":67.875,"m":0.9,"l":"1","lo":0.56,"a":1.3,"b":1.78,"c":2.75,"d":4.3},
{"t":68.125,"m":0.54,"l":"0","lo":0.47,"a":0.68,"b":0.9,"c":1.3,"d":1.8},
{"t":68.375,"m":0.57,"l":"0","lo":0.49,"a":0.83,"b":1.1,"c":1.72,"d":2.9},
{"t":68.625,"m":0.68,"l":"1","lo":0.52,"a":0.98,"b":1.35,"c":2.1,"d":3.6},
{"t":68.875,"m":0.87,"l":"1","lo":0.56,"a":1.28,"b":1.75,"c":2.7,"d":4.5},
{"t":69.125,"m":0.53,"l":"0","lo":0.47,"a":0.67,"b":0.9,"c":1.3,"d":2.0},
{"t":69.375,"m":0.56,"l":"0","lo":0.49,"a":0.82,"b":1.1,"c":1.7,"d":3.4,"p":8.1},
{"t":69.625,"m":0.6,"l":"1","lo":0.52,"a":0.95,"b":1.3,"c":2.1,"d":5.9,"p":8.1},
{"t":69.875,"m":1.05,"l":"1","lo":0.6,"a":1.4,"b":1.8,"c":2.7,"d":4.6},
{"t":70.125,"m":0.92,"l":"0","lo":0.86,"a":1.05,"b":1.25,"c":1.6,"d":2.4},
{"t":70.375,"m":0.95,"l":"0","lo":0.88,"a":1.2,"b":1.45,"c":2.0,"d":3.1},
{"t":70.625,"m":1.05,"l":"1","lo":0.9,"a":1.35,"b":1.7,"c":2.4,"d":3.9},
{"t":70.875,"m":1.18,"l":"1","lo":0.95,"a":1.58,"b":2.08,"c":2.95,"d":4.6},
{"t":71.125,"m":0.93,"l":"0","lo":0.86,"a":1.06,"b":1.26,"c":1.62,"d":2.6},
{"t":71.375,"m":0.96,"l":"0","lo":0.88,"a":1.21,"b":1.46,"c":2.02,"d":3.4},
{"t":71.625,"m":1.06,"l":"1","lo":0.9,"a":1.36,"b":1.72,"c":2.42,"d":4.2},
{"t":71.875,"m":1.22,"l":"1","lo":0.95,"a":1.62,"b":2.12,"c":3.05,"d":4.9,"p":7.1},
{"t":72.125,"m":0.92,"l":"0","lo":0.86,"a":1.05,"b":1.25,"c":1.6,"d":2.3},
{"t":72.375,"m":0.95,"l":"0","lo":0.88,"a":1.2,"b":1.45,"c":2.0,"d":3.2},
{"t":72.625,"m":1.04,"l":"0","lo":0.9,"a":1.34,"b":1.68,"c":2.38,"d":4.0,"p":6.9},
{"t":72.875,"m":1.2,"l":"1","lo":0.95,"a":1.6,"b":2.1,"c":3.0,"d":4.7},
{"t":73.125,"m":0.93,"l":"0","lo":0.86,"a":1.06,"b":1.26,"c":1.62,"d":2.5},
{"t":73.375,"m":0.96,"l":"0","lo":0.88,"a":1.21,"b":1.46,"c":2.02,"d":3.3},
{"t":73.625,"m":1.07,"l":"1","lo":0.9,"a":1.37,"b":1.72,"c":2.44,"d":4.3,"p":7.8},
{"t":73.875,"m":1.25,"l":"1","lo":0.96,"a":1.65,"b":2.15,"c":3.1,"d":5.0},
{"t":74.125,"m":0.92,"l":"0","lo":0.86,"a":1.05,"b":1.25,"c":1.6,"d":2.7},
{"t":74.375,"m":0.95,"l":"0","lo":0.88,"a":1.2,"b":1.45,"c":2.0,"d":3.5,"p":8.1},
{"t":74.625,"m":1.05,"l":"1","lo":0.9,"a":1.35,"b":1.7,"c":2.4,"d":4.1},
{"t":74.875,"m":1.19,"l":"1","lo":0.95,"a":1.59,"b":2.09,"c":2.98,"d":4.8},
{"t":75.125,"m":0.93,"l":"0","lo":0.86,"a":1.06,"b":1.26,"c":1.62,"d":2.4},
{"t":75.375,"m":0.96,"l":"0","lo":0.88,"a":1.21,"b":1.46,"c":2.02,"d":3.2},
{"t":75.625,"m":1.04,"l":"0","lo":0.9,"a":1.34,"b":1.68,"c":2.38,"d":3.9},
{"t":75.875,"m":1.21,"l":"1","lo":0.95,"a":1.61,"b":2.11,"c":3.02,"d":4.5},
{"t":76.125,"m":0.92,"l":"0","lo":0.86,"a":1.05,"b":1.25,"c":1.6,"d":2.6},
{"t":76.375,"m":0.95,"l":"0","lo":0.88,"a":1.2,"b":1.45,"c":2.0,"d":3.6},
{"t":76.625,"m":1.06,"l":"1","lo":0.9,"a":1.36,"b":1.72,"c":2.42,"d":4.4},
{"t":76.875,"m":1.23,"l":"1","lo":0.96,"a":1.63,"b":2.13,"c":3.05,"d":5.2},
{"t":77.125,"m":0.93,"l":"0","lo":0.86,"a":1.06,"b":1.26,"c":1.62,"d":2.5},
{"t":77.375,"m":0.96,"l":"0","lo":0.88,"a":1.21,"b":1.46,"c":2.02,"d":3.4,"p":5.9},
{"t":77.625,"m":1.05,"l":"1","lo":0.9,"a":1.35,"b":1.7,"c":2.4,"d":4.0},
{"t":77.875,"m":1.2,"l":"1","lo":0.95,"a":1.6,"b":2.1,"c":3.0,"d":4.6},
{"t":78.125,"m":0.92,"l":"0","lo":0.86,"a":1.05,"b":1.25,"c":1.6,"d":2.3},
{"t":78.375,"m":0.95,"l":"0","lo":0.88,"a":1.2,"b":1.45,"c":2.0,"d":3.1},
{"t":78.625,"m":1.04,"l":"0","lo":0.9,"a":1.34,"b":1.68,"c":2.38,"d":3.8},
{"t":78.875,"m":1.18,"l":"1","lo":0.95,"a":1.58,"b":2.08,"c":2.95,"d":4.4},
{"t":79.125,"m":0.93,"l":"0","lo":0.86,"a":1.06,"b":1.26,"c":1.62,"d":2.6,"p":5.2},
{"t":79.375,"m":0.96,"l":"0","lo":0.88,"a":1.21,"b":1.46,"c":2.02,"d":3.5,"p":5.6},
{"t":79.625,"m":1.06,"l":"1","lo":0.9,"a":1.36,"b":1.72,"c":2.42,"d":4.2},
{"t":79.875,"m":1.24,"l":"1","lo":0.96,"a":1.64,"b":2.14,"c":3.08,"d":4.9},
{"t":80.125,"m":0.92,"l":"0","lo":0.86,"a":1.05,"b":1.25,"c":1.6,"d":2.4},
{"t":80.375,"m":0.95,"l":"0","lo":0.88,"a":1.2,"b":1.45,"c":2.0,"d":3.3},
{"t":80.625,"m":1.05,"l":"1","lo":0.9,"a":1.35,"b":1.7,"c":2.4,"d":4.1},
{"t":80.875,"m":1.2,"l":"1","lo":0.95,"a":1.6,"b":2.1,"c":3.0,"d":4.7},
{"t":81.125,"m":0.93,"l":"0","lo":0.86,"a":1.06,"b":1.26,"c":1.62,"d":2.7},
{"t":81.375,"m":0.96,"l":"0","lo":0.88,"a":1.21,"b":1.46,"c":2.02,"d":3.6},
{"t":81.625,"m":1.04,"l":"0","lo":0.9,"a":1.34,"b":1.68,"c":2.38,"d":4.5},
{"t":81.875,"m":1.22,"l":"1","lo":0.95,"a":1.62,"b":2.12,"c":3.05,"d":5.3},
{"t":82.125,"m":0.92,"l":"0","lo":0.86,"a":1.05,"b":1.25,"c":1.6,"d":2.5},
{"t":82.375,"m":0.95,"l":"0","lo":0.88,"a":1.2,"b":1.45,"c":2.0,"d":3.2},
{"t":82.625,"m":1.06,"l":"1","lo":0.9,"a":1.36,"b":1.72,"c":2.42,"d":4.0},
{"t":82.875,"m":1.21,"l":"1","lo":0.95,"a":1.61,"b":2.11,"c":3.02,"d":4.6,"p":7.4},
{"t":83.125,"m":0.93,"l":"0","lo":0.86,"a":1.06,"b":1.26,"c":1.62,"d":2.3},
{"t":83.375,"m":0.96,"l":"0","lo":0.88,"a":1.21,"b":1.46,"c":2.02,"d":3.0},
{"t":83.625,"m":1.05,"l":"1","lo":0.9,"a":1.35,"b":1.7,"c":2.4,"d":3.7},
{"t":83.875,"m":1.19,"l":"1","lo":0.95,"a":1.59,"b":2.09,"c":2.98,"d":4.3},
{"t":84.125,"m":0.92,"l":"0","lo":0.86,"a":1.05,"b":1.25,"c":1.6,"d":2.6},
{"t":84.375,"m":0.95,"l":"0","lo":0.88,"a":1.2,"b":1.45,"c":2.0,"d":3.4},
{"t":84.625,"m":1.04,"l":"0","lo":0.9,"a":1.34,"b":1.68,"c":2.38,"d":4.3},
{"t":84.875,"m":1.26,"l":"1","lo":0.96,"a":1.66,"b":2.16,"c":3.1,"d":5.1},
{"t":85.125,"m":0.93,"l":"0","lo":0.86,"a":1.06,"b":1.26,"c":1.62,"d":2.5},
{"t":85.375,"m":0.96,"l":"0","lo":0.88,"a":1.21,"b":1.46,"c":2.02,"d":3.5,"p":6.1},
{"t":85.625,"m":1.06,"l":"1","lo":0.9,"a":1.36,"b":1.72,"c":2.42,"d":4.2},
{"t":85.875,"m":1.23,"l":"1","lo":0.96,"a":1.63,"b":2.13,"c":3.05,"d":4.8},
{"t":86.125,"m":0.92,"l":"0","lo":0.86,"a":1.05,"b":1.25,"c":1.6,"d":2.4},
{"t":86.375,"m":1.15,"l":"1","lo":0.9,"a":1.55,"b":1.85,"c":2.6,"d":3.3},
{"t":86.625,"m":1.05,"l":"1","lo":0.9,"a":1.35,"b":1.7,"c":2.4,"d":4.0},
{"t":86.875,"m":1.2,"l":"1","lo":0.95,"a":1.6,"b":2.1,"c":3.0,"d":4.9,"p":8.0},
{"t":87.125,"m":0.93,"l":"0","lo":0.86,"a":1.06,"b":1.26,"c":1.62,"d":2.3},
{"t":87.375,"m":0.96,"l":"0","lo":0.88,"a":1.21,"b":1.46,"c":2.02,"d":3.1},
{"t":87.625,"m":1.04,"l":"0","lo":0.9,"a":1.34,"b":1.68,"c":2.38,"d":3.8},
{"t":87.875,"m":1.18,"l":"1","lo":0.95,"a":1.58,"b":2.08,"c":2.95,"d":4.4},
{"t":88.125,"m":0.92,"l":"0","lo":0.86,"a":1.05,"b":1.25,"c":1.6,"d":2.5},
{"t":88.375,"m":0.95,"l":"0","lo":0.88,"a":1.2,"b":1.45,"c":2.0,"d":3.3},
{"t":88.625,"m":1.05,"l":"1","lo":0.9,"a":1.35,"b":1.7,"c":2.4,"d":3.9},
{"t":88.875,"m":1.2,"l":"1","lo":0.95,"a":1.6,"b":2.1,"c":3.0,"d":4.5},
{"t":89.125,"m":1.0,"l":"6-10","lo":0.9,"a":1.1,"b":1.3,"c":1.7,"d":2.4},
{"t":89.875,"m":1.1,"l":"1","lo":0.92,"a":1.3,"b":1.6,"c":2.2,"d":3.1},
{"t":90.125,"m":0.93,"l":"0","lo":0.86,"a":1.06,"b":1.26,"c":1.62,"d":2.5},
{"t":90.375,"m":0.96,"l":"0","lo":0.88,"a":1.21,"b":1.46,"c":2.02,"d":3.0},
{"t":90.625,"m":1.05,"l":"1","lo":0.9,"a":1.35,"b":1.7,"c":2.4,"d":3.5,"p":7.7}
]},
"resolve": {"axis": {"x": "independent", "y": "independent"}},
"layer": [
  {
    "mark": {"type": "bar", "size": 2.4, "color": "#dedede", "clip": true},
    "encoding": {
      "x": {"field": "t", "type": "quantitative",
        "scale": {"domain": [0.81, 90.81], "nice": false, "zero": false},
        "axis": {
          "orient": "bottom",
          "values": [3.5,10.5,17.5,24.5,31.5,38.5,45.5,52.5,59.5,66.5,73.5,80.5,87.5],
          "grid": false, "ticks": false,
          "domainColor": "black",
          "labelExpr": "'Week ' + (datum.value < 63 ? '0' : '') + (floor(datum.value / 7) + 1)",
          "labelPadding": 4,
          "labelFont": "DejaVu Sans Mono", "labelFontSize": 10, "labelColor": "black",
          "labelOverlap": false, "labelFlush": false, "labelBound": false,
          "title": null
        }},
      "y": {"field": "lo", "type": "quantitative",
        "scale": {"domain": [0, 8.08], "nice": false, "zero": false},
        "axis": {
          "values": [0,0.5,1,1.5,2,2.5,3,3.5,4,4.5,5,5.5,6,6.5,7,7.5,8],
          "grid": true,
          "gridColor": {"condition": {"test": "datum.value % 1 === 0", "value": "#e98a8a"}, "value": "#c8c8c8"},
          "gridDash": [1, 2],
          "ticks": false,
          "domainColor": "black",
          "labelExpr": "datum.value % 1 !== 0 ? '' : (datum.value === 0 ? '0.0' : format(datum.value, '.1f') + ' m')",
          "labelPadding": 6, "labelFont": "DejaVu Sans Mono", "labelFontSize": 10.5, "labelColor": "black",
          "labelOverlap": false, "labelBound": false, "labelFlush": false,
          "title": "Seconds", "titleFont": "DejaVu Sans", "titleFontSize": 11.5, "titleFontWeight": "normal",
          "titleColor": "black", "titleX": -57, "titleY": 100, "titleAngle": 270,
          "titleAlign": "center", "titleBaseline": "middle"
        }},
      "y2": {"field": "d"}
    }
  },
  {
    "transform": [{"filter": "isValid(datum.p)"}],
    "mark": {"type": "rule", "color": "#d2d2d2", "strokeWidth": 1, "clip": true},
    "encoding": {
      "x": {"field": "t", "type": "quantitative",
        "axis": {
          "orient": "top",
          "values": [1,2,3,4,5,6,7,8,9,10,11,12,13,14,15,16,17,18,19,20,21,22,23,24,25,26,27,28,29,30,31,32,33,34,35,36,37,38,39,40,41,42,43,44,45,46,47,48,49,50,51,52,53,54,55,56,57,58,59,60,61,62,63,64,65,66,67,68,69,70,71,72,73,74,75,76,77,78,79,80,81,82,83,84,85,86,87,88,89,90],
          "grid": true,
          "gridColor": {"condition": {"test": "datum.value % 7 === 0", "value": "#e98a8a"}, "value": "#c8c8c8"},
          "gridDash": [1, 2],
          "ticks": false, "labels": false, "domain": false, "title": null
        }},
      "y": {"field": "c", "type": "quantitative", "axis": null},
      "y2": {"field": "p"}
    }
  },
  {
    "mark": {"type": "bar", "size": 2.4, "color": "#bcbcbc", "clip": true},
    "encoding": {
      "x": {"field": "t", "type": "quantitative", "axis": null},
      "y": {"field": "lo", "type": "quantitative", "axis": null},
      "y2": {"field": "c"}
    }
  },
  {
    "mark": {"type": "bar", "size": 2.4, "color": "#8a8a8a", "clip": true},
    "encoding": {
      "x": {"field": "t", "type": "quantitative", "axis": null},
      "y": {"field": "lo", "type": "quantitative", "axis": null},
      "y2": {"field": "b"}
    }
  },
  {
    "mark": {"type": "bar", "size": 2.4, "color": "#404040", "clip": true},
    "encoding": {
      "x": {"field": "t", "type": "quantitative", "axis": null},
      "y": {"field": "lo", "type": "quantitative", "axis": null},
      "y2": {"field": "a"}
    }
  },
  {
    "mark": {"type": "tick", "orient": "horizontal", "size": 2.8, "thickness": 2.4, "opacity": 1, "clip": true},
    "encoding": {
      "x": {"field": "t", "type": "quantitative", "axis": null},
      "y": {"field": "m", "type": "quantitative",
        "axis": {"orient": "right", "grid": false, "labels": false, "ticks": false, "domain": false,
          "title": "RRDTOOL / TOBI OETIKER", "titleAngle": 90, "titleX": 20, "titleY": -10,
          "titleAlign": "left", "titleBaseline": "middle", "titleFont": "DejaVu Sans Mono",
          "titleFontSize": 8.2, "titleFontWeight": "normal", "titleColor": "#b4b4b4"}},
      "color": {"field": "l", "type": "nominal",
        "scale": {"domain": ["0","1","2","3","4-5","6-10","11-19","20/20"],
                  "range": ["#26ff00","#00b8ff","#0059ff","#7e00ff","#ff00ff","#ff5500","#ff0000","#a10000"]},
        "legend": {"orient": "none", "legendX": 41, "legendY": 248, "direction": "horizontal", "columns": 8,
          "title": null, "symbolType": "square", "symbolSize": 81, "symbolStrokeColor": "black",
          "symbolStrokeWidth": 1, "symbolOpacity": 1, "labelFont": "DejaVu Sans Mono", "labelFontSize": 11.6,
          "labelColor": "black", "labelOffset": 6, "columnPadding": 11, "padding": 0}}
    }
  }
]
}
